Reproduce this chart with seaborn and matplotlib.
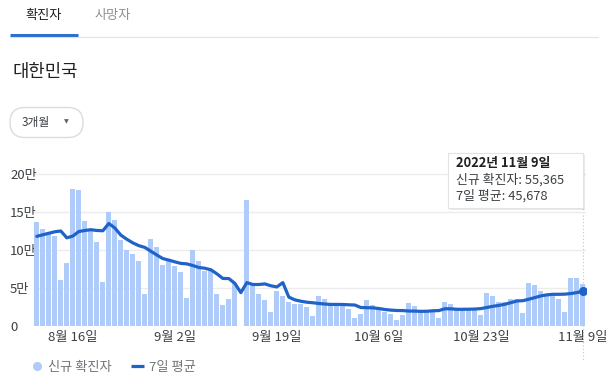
import numpy as np
import pandas as pd
import matplotlib
matplotlib.use("Agg")
import matplotlib.pyplot as plt
import matplotlib.transforms as mtransforms
from matplotlib.lines import Line2D
from matplotlib.patches import FancyBboxPatch, Rectangle
import seaborn as sns

# ---------------- data (values in 만 = 10,000 people) ----------------
dates = pd.date_range("2022-08-10", "2022-11-09", freq="D")

new_cases_man = [
    13.7, 12.8, 12.1, 11.8, 6.1, 8.3, 18.0, 17.9, 13.8, 12.8,
    11.1, 5.8, 15.0, 13.9, 11.3, 10.0, 9.5, 8.5, 4.2, 11.5,
    10.4, 8.0, 8.6, 7.9, 7.1, 3.7, 10.0, 8.6, 7.3, 7.2,
    4.2, 2.8, 3.6, 5.6, 0.0, 16.6, 5.4, 4.2, 3.4, 1.8,
    4.6, 4.0, 3.2, 2.9, 2.9, 2.5, 1.3, 3.9, 3.5, 2.9,
    2.9, 2.8, 2.2, 1.1, 1.6, 3.4, 2.7, 2.3, 1.9, 1.6,
    0.8, 1.5, 3.0, 2.6, 2.1, 2.0, 2.0, 1.0, 3.2, 2.9,
    2.2, 2.1, 2.1, 2.1, 1.4, 4.3, 3.9, 3.1, 3.1, 3.6,
    3.6, 1.7, 5.7, 5.4, 4.6, 4.1, 4.1, 3.6, 1.8, 6.3,
    6.3, 5.5365,
]

avg7_man = [
    11.8, 12.0, 12.2, 12.4, 12.5, 11.6, 11.83, 12.43, 12.57, 12.67,
    12.57, 12.53, 13.49, 12.9, 11.96, 11.41, 10.94, 10.57, 10.34, 9.84,
    9.34, 8.87, 8.67, 8.44, 8.24, 8.17, 7.96, 7.70, 7.60, 7.40,
    6.87, 6.26, 6.24, 5.61, 4.39, 5.71, 5.46, 5.46, 5.54, 5.29,
    5.14, 5.71, 3.80, 3.44, 3.26, 3.13, 3.06, 2.96, 2.89, 2.84,
    2.84, 2.83, 2.79, 2.76, 2.43, 2.41, 2.39, 2.30, 2.17, 2.09,
    2.04, 2.03, 1.97, 1.96, 1.93, 1.94, 2.00, 2.03, 2.27, 2.26,
    2.20, 2.20, 2.21, 2.23, 2.29, 2.44, 2.59, 2.71, 2.86, 3.07,
    3.29, 3.33, 3.53, 3.74, 3.96, 4.10, 4.17, 4.17, 4.19, 4.27,
    4.40, 4.5678,
]

tick_dates = ["2022-08-16", "2022-09-02", "2022-09-19", "2022-10-06", "2022-10-23", "2022-11-09"]
tick_labels = ["8월 16일", "9월 2일", "9월 19일", "10월 6일", "10월 23일", "11월 9일"]
ytick_values = [0, 50000, 100000, 150000, 200000]
ytick_labels = ["0", "5만", "10만", "15만", "20만"]

legend_labels = ["신규 확진자", "7일 평균"]
tooltip_lines = ["2022년 11월 9일", "신규 확진자: 55,365", "7일 평균: 45,678"]

# ---------------- style ----------------
sns.set_style("white")
plt.rcParams["font.family"] = ["Noto Sans CJK KR", "DejaVu Sans"]

BAR = "#aecbfa"
LINE = "#1f62c8"
DARK = "#202124"
MID = "#3c4043"
GREY = "#70757a"

W, H = 609, 387
fig = plt.figure(figsize=(W / 100, H / 100), dpi=100)
fig.patch.set_facecolor("white")
PX = mtransforms.Affine2D().scale(1 / W, -1 / H).translate(0, 1) + fig.transFigure

# axes placement (pixels)
x0, x1 = 33.8, 585.9
y_zero, y_20 = 326.0, 174.0
ymax = 205000
y_top = y_zero - (y_zero - y_20) * ymax / 200000
ax = fig.add_axes([x0 / W, 1 - y_zero / H, (x1 - x0) / W, (y_zero - y_top) / H])
ax.patch.set_alpha(0)

# hover line (drawn behind the axes content)
fig.add_artist(Line2D([583, 583], [205, 360], transform=PX, color="#c4c4c4",
                      lw=0.8, ls=(0, (1, 2)), zorder=-1))

df = pd.DataFrame({
    "day": np.arange(len(dates)),
    "cases": np.array(new_cases_man) * 10000,
    "avg": np.array(avg7_man) * 10000,
})

sns.barplot(data=df, x="day", y="cases", native_scale=True, width=0.83,
            color=BAR, saturation=1, errorbar=None, linewidth=0,
            edgecolor="none", ax=ax, zorder=2)
sns.lineplot(data=df, x="day", y="avg", color=LINE, linewidth=2.3, ax=ax, zorder=3)
ax.plot(df["day"].iloc[-1], df["avg"].iloc[-1], "o", color=LINE, markersize=6.5,
        markeredgewidth=0, zorder=4)

ax.set_xlim(-0.5, len(dates) - 0.5)
ax.set_ylim(0, ymax)
tick_pos = [dates.get_loc(pd.Timestamp(d)) for d in tick_dates]
ax.set_xticks(tick_pos)
ax.set_xticklabels(tick_labels)
ax.set_yticks(ytick_values)
ax.set_yticklabels(ytick_labels)
ax.tick_params(axis="x", length=0, pad=3.5, labelsize=9.5, labelcolor=MID)
ax.tick_params(axis="y", length=0, pad=17.1, labelsize=9.5, labelcolor=MID)
for lbl in ax.get_yticklabels():
    lbl.set_horizontalalignment("left")
ax.set_xlabel("")
ax.set_ylabel("")
ax.grid(axis="y", color="#ececec", linewidth=1.0, zorder=0)
ax.grid(axis="x", visible=False)
ax.set_axisbelow(True)
sns.despine(ax=ax, left=True, bottom=True)

# ---------------- top UI ----------------
fig.text(25 / W, 1 - 15 / H, "확진자", fontsize=9.5, color=DARK, va="center", ha="left")
fig.text(95 / W, 1 - 15 / H, "사망자", fontsize=9.5, color="#8d9196", va="center", ha="left")
fig.add_artist(Line2D([10, 598], [37, 37], transform=PX, color="#e6e6e6", lw=1.0))
fig.add_artist(Line2D([10, 78], [35, 35], transform=PX, color="#2f6fcf", lw=2.2,
                      solid_capstyle="butt"))
fig.text(12 / W, 1 - 72 / H, "대한민국", fontsize=12.8, color=DARK, va="center", ha="left")

btn = FancyBboxPatch((10, 107.5), 73, 30, boxstyle="round,pad=0,rounding_size=15",
                     transform=PX, facecolor="white", edgecolor="#dadce0", lw=1.0)
fig.add_artist(btn)
fig.text(22 / W, 1 - 122.5 / H, "3개월", fontsize=8.5, color=MID, va="center", ha="left")
fig.text(64 / W, 1 - 122 / H, "▼", fontsize=4.5, color="#5f6368", va="center", ha="left",
         family=["DejaVu Sans"])

# ---------------- tooltip ----------------
shadow = Rectangle((449.5, 155), 135, 55, transform=PX, facecolor="#00000014",
                   edgecolor="none")
fig.add_artist(shadow)
tip = Rectangle((448, 153), 135, 55, transform=PX, facecolor="white",
                edgecolor="#e3e3e3", lw=0.8)
fig.add_artist(tip)
fig.text(456 / W, 1 - 163.5 / H, tooltip_lines[0], fontsize=9.3, color=DARK,
         fontweight="bold", va="center", ha="left")
fig.text(456 / W, 1 - 180 / H, tooltip_lines[1], fontsize=9.3, color=MID, va="center", ha="left")
fig.text(456 / W, 1 - 196 / H, tooltip_lines[2], fontsize=9.3, color=MID, va="center", ha="left")

# ---------------- legend ----------------
handles = [
    Line2D([], [], marker="o", linestyle="none", markersize=5.5,
           markerfacecolor=BAR, markeredgecolor=BAR),
    Line2D([], [], color=LINE, lw=2.3, solid_capstyle="butt"),
]
fig.legend(handles, legend_labels, loc="center left",
           bbox_to_anchor=(30 / W, 1 - 367 / H), ncol=2, frameon=False,
           handlelength=1.0, handletextpad=0.35, columnspacing=1.5,
           borderpad=0, borderaxespad=0, fontsize=9.5, labelcolor=GREY)

fig.savefig("out.png", dpi=100)
